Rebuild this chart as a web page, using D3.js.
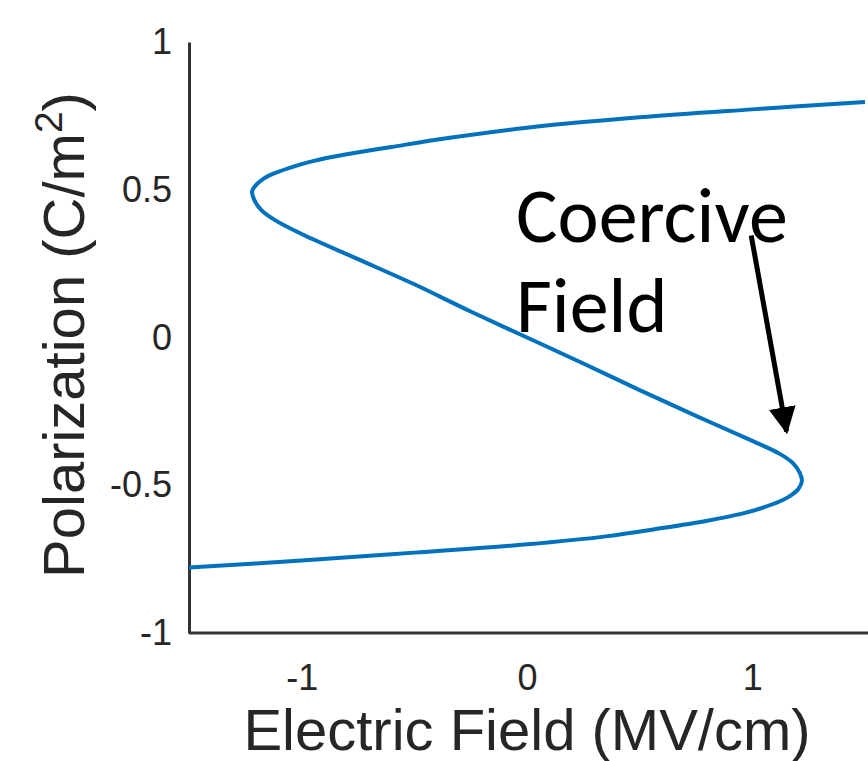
<!DOCTYPE html>
<html>
<head>
<meta charset="utf-8">
<script src="https://cdn.jsdelivr.net/npm/d3@7"></script>
<style>
  body { margin: 0; background: #fff; }
  svg { display: block; }
</style>
</head>
<body>
<svg id="chart" width="868" height="761"></svg>
<script>
// values, ordered along the curve (bottom -> top)
var fieldE = [-1.50, -1.00, -0.50, 0.00, 0.35, 0.60, 0.80, 0.95, 1.05, 1.12, 1.17, 1.205, 1.22,
              1.21, 1.18, 1.12, 1.00, 0.75, 0.50, 0.25, 0.00, -0.25, -0.50, -0.75, -1.00, -1.12, -1.18, -1.21,
              -1.22, -1.20, -1.17, -1.12, -1.05, -0.95, -0.80, -0.60, -0.35, 0.00, 0.50, 1.00, 1.50];
var polP   = [-0.778, -0.755, -0.728, -0.700, -0.673, -0.645, -0.620, -0.597, -0.575, -0.555, -0.535, -0.512, -0.485,
              -0.457, -0.425, -0.393, -0.350, -0.265, -0.178, -0.088, 0.000, 0.088, 0.180, 0.265, 0.350, 0.398, 0.432, 0.465,
              0.495, 0.518, 0.537, 0.556, 0.575, 0.597, 0.620, 0.645, 0.675, 0.710, 0.745, 0.772, 0.797];

var xTicks = [-1, 0, 1];
var yTicks = [-1, -0.5, 0, 0.5, 1];

// annotation arrow (data coords): from label to the coercive point
var arrowE = [0.995, 1.152];
var arrowP = [0.345, -0.318];

var svg = d3.select('#chart');

var x = d3.scaleLinear().domain([-1.5, 1.5]).range([189, 865]);
var y = d3.scaleLinear().domain([-1, 1]).range([633, 42]);

var axisColor = '#333';
var tickFont = '"Liberation Sans", Arial, sans-serif';
var fmt = function(d) { return String(d); };

// axes
var xAxis = svg.append('g')
    .attr('transform', 'translate(0,633)')
    .call(d3.axisBottom(x).tickValues(xTicks).tickSize(0).tickPadding(31).tickFormat(fmt));
xAxis.select('.domain').attr('d', 'M189,0H868');

var yAxis = svg.append('g')
    .attr('transform', 'translate(189,0)')
    .call(d3.axisLeft(y).tickValues(yTicks).tickSize(0).tickPadding(17).tickFormat(fmt));

svg.selectAll('.domain').attr('stroke', axisColor).attr('stroke-width', 3);
svg.selectAll('.tick text')
    .attr('fill', '#262626')
    .attr('font-family', tickFont)
    .attr('font-size', 36);

// axis titles
svg.append('text')
    .attr('x', 527).attr('y', 750)
    .attr('text-anchor', 'middle')
    .attr('fill', '#262626')
    .style('font-family', tickFont)
    .style('font-size', '58px')
    .text('Electric Field (MV/cm)');

var yTitle = svg.append('text')
    .attr('transform', 'translate(84,335) rotate(-90)')
    .attr('text-anchor', 'middle')
    .attr('fill', '#262626')
    .style('font-family', tickFont)
    .style('font-size', '58px');
yTitle.append('tspan').text('Polarization (C/m');
yTitle.append('tspan').attr('dy', -22).style('font-size', '39px').text('2');
yTitle.append('tspan').attr('dy', 22).text(')');

// curve
var pts = d3.range(fieldE.length).map(function(i) { return [fieldE[i], polP[i]]; });
var line = d3.line()
    .x(function(d) { return x(d[0]); })
    .y(function(d) { return y(d[1]); })
    .curve(d3.curveCatmullRom.alpha(0.5));

svg.append('path')
    .datum(pts)
    .attr('d', line)
    .attr('fill', 'none')
    .attr('stroke', '#0072BD')
    .attr('stroke-width', 4);

// annotation
var labelFont = 'Carlito, Calibri, "Open Sans", sans-serif';
var ann = svg.append('text')
    .attr('fill', '#000')
    .style('font-family', labelFont)
    .style('font-size', '78px');
ann.append('tspan').attr('x', 516).attr('y', 242).text('Coercive');
ann.append('tspan').attr('x', 516).attr('y', 332).text('Field');

svg.append('defs').append('marker')
    .attr('id', 'arrow')
    .attr('viewBox', '0 0 10 10')
    .attr('refX', 9).attr('refY', 5)
    .attr('markerWidth', 27).attr('markerHeight', 27)
    .attr('markerUnits', 'userSpaceOnUse')
    .attr('orient', 'auto')
    .append('path')
    .attr('d', 'M0,0L10,5L0,10Z')
    .attr('fill', '#000');

svg.append('line')
    .attr('x1', x(arrowE[0])).attr('y1', y(arrowP[0]))
    .attr('x2', x(arrowE[1])).attr('y2', y(arrowP[1]))
    .attr('stroke', '#000')
    .attr('stroke-width', 5)
    .attr('marker-end', 'url(#arrow)');
</script>
</body>
</html>
